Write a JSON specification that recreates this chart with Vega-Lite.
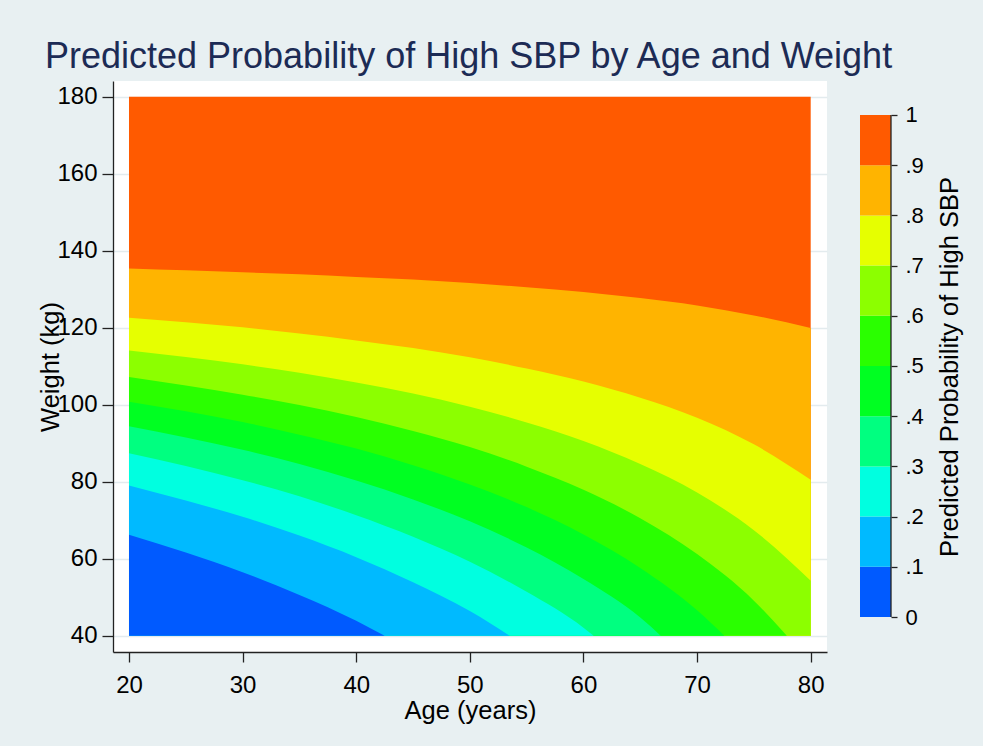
{
  "$schema": "https://vega.github.io/schema/vega-lite/v6.json",
  "background": "#e8f0f2",
  "padding": {"left": 38, "top": 39, "right": 20, "bottom": 22},
  "title": {
    "text": "Predicted Probability of High SBP by Age and Weight",
    "anchor": "start",
    "frame": "bounds",
    "dx": 6,
    "offset": -23,
    "baseline": "alphabetic",
    "font": "Liberation Sans",
    "fontSize": 36,
    "fontWeight": "normal",
    "color": "#1c2b55"
  },
  "config": {
    "view": {"stroke": null},
    "font": "Liberation Sans",
    "axis": {
      "domainColor": "#222222",
      "tickColor": "#222222",
      "domainWidth": 1.3,
      "tickWidth": 1.3,
      "labelColor": "#000000",
      "titleColor": "#000000",
      "labelFont": "Liberation Sans",
      "titleFont": "Liberation Sans",
      "titleFontWeight": "normal",
      "labelOverlap": false,
      "labelFlush": false
    }
  },
  "datasets": {
    "curves": [
      {"lvl": 10, "age": 20, "w": 180}, {"lvl": 10, "age": 80, "w": 180},
      {"lvl": 9, "age": 20, "w": 135.4}, {"lvl": 9, "age": 25, "w": 134.9}, {"lvl": 9, "age": 30, "w": 134.4}, {"lvl": 9, "age": 35, "w": 133.9}, {"lvl": 9, "age": 40, "w": 133.2}, {"lvl": 9, "age": 45, "w": 132.5}, {"lvl": 9, "age": 50, "w": 131.6}, {"lvl": 9, "age": 55, "w": 130.5}, {"lvl": 9, "age": 60, "w": 129.3}, {"lvl": 9, "age": 65, "w": 127.7}, {"lvl": 9, "age": 70, "w": 125.8}, {"lvl": 9, "age": 75, "w": 123.2}, {"lvl": 9, "age": 80, "w": 119.9},
      {"lvl": 8, "age": 20, "w": 122.6}, {"lvl": 8, "age": 25, "w": 121.4}, {"lvl": 8, "age": 30, "w": 120.1}, {"lvl": 8, "age": 35, "w": 118.5}, {"lvl": 8, "age": 40, "w": 116.7}, {"lvl": 8, "age": 45, "w": 114.7}, {"lvl": 8, "age": 50, "w": 112.3}, {"lvl": 8, "age": 55, "w": 109.4}, {"lvl": 8, "age": 60, "w": 106.0}, {"lvl": 8, "age": 65, "w": 101.8}, {"lvl": 8, "age": 70, "w": 96.6}, {"lvl": 8, "age": 75, "w": 89.7}, {"lvl": 8, "age": 80, "w": 80.5},
      {"lvl": 7, "age": 20, "w": 114.1}, {"lvl": 7, "age": 25, "w": 112.4}, {"lvl": 7, "age": 30, "w": 110.5}, {"lvl": 7, "age": 35, "w": 108.3}, {"lvl": 7, "age": 40, "w": 105.8}, {"lvl": 7, "age": 45, "w": 102.9}, {"lvl": 7, "age": 50, "w": 99.5}, {"lvl": 7, "age": 55, "w": 95.4}, {"lvl": 7, "age": 60, "w": 90.6}, {"lvl": 7, "age": 65, "w": 84.6}, {"lvl": 7, "age": 70, "w": 77.2}, {"lvl": 7, "age": 75, "w": 67.4}, {"lvl": 7, "age": 80, "w": 54.3},
      {"lvl": 6, "age": 20, "w": 107.2}, {"lvl": 6, "age": 25, "w": 105.0}, {"lvl": 6, "age": 30, "w": 102.6}, {"lvl": 6, "age": 35, "w": 99.9}, {"lvl": 6, "age": 40, "w": 96.8}, {"lvl": 6, "age": 45, "w": 93.2}, {"lvl": 6, "age": 50, "w": 89.0}, {"lvl": 6, "age": 55, "w": 83.9}, {"lvl": 6, "age": 60, "w": 77.9}, {"lvl": 6, "age": 65, "w": 70.5}, {"lvl": 6, "age": 70, "w": 61.2}, {"lvl": 6, "age": 75, "w": 49.1}, {"lvl": 6, "age": 77.9, "w": 40},
      {"lvl": 5, "age": 20, "w": 100.8}, {"lvl": 5, "age": 25, "w": 98.3}, {"lvl": 5, "age": 30, "w": 95.5}, {"lvl": 5, "age": 35, "w": 92.2}, {"lvl": 5, "age": 40, "w": 88.6}, {"lvl": 5, "age": 45, "w": 84.3}, {"lvl": 5, "age": 50, "w": 79.3}, {"lvl": 5, "age": 55, "w": 73.4}, {"lvl": 5, "age": 60, "w": 66.3}, {"lvl": 5, "age": 65, "w": 57.6}, {"lvl": 5, "age": 70, "w": 46.6}, {"lvl": 5, "age": 72.4, "w": 40},
      {"lvl": 4, "age": 20, "w": 94.4}, {"lvl": 4, "age": 25, "w": 91.5}, {"lvl": 4, "age": 30, "w": 88.3}, {"lvl": 4, "age": 35, "w": 84.6}, {"lvl": 4, "age": 40, "w": 80.3}, {"lvl": 4, "age": 45, "w": 75.4}, {"lvl": 4, "age": 50, "w": 69.7}, {"lvl": 4, "age": 55, "w": 62.9}, {"lvl": 4, "age": 60, "w": 54.7}, {"lvl": 4, "age": 65, "w": 44.7}, {"lvl": 4, "age": 66.8, "w": 40},
      {"lvl": 3, "age": 20, "w": 87.4}, {"lvl": 3, "age": 25, "w": 84.1}, {"lvl": 3, "age": 30, "w": 80.4}, {"lvl": 3, "age": 35, "w": 76.2}, {"lvl": 3, "age": 40, "w": 71.3}, {"lvl": 3, "age": 45, "w": 65.7}, {"lvl": 3, "age": 50, "w": 59.2}, {"lvl": 3, "age": 55, "w": 51.4}, {"lvl": 3, "age": 60, "w": 42.1}, {"lvl": 3, "age": 60.9, "w": 40},
      {"lvl": 2, "age": 20, "w": 79.0}, {"lvl": 2, "age": 25, "w": 75.1}, {"lvl": 2, "age": 30, "w": 70.9}, {"lvl": 2, "age": 35, "w": 66.0}, {"lvl": 2, "age": 40, "w": 60.4}, {"lvl": 2, "age": 45, "w": 53.9}, {"lvl": 2, "age": 50, "w": 46.4}, {"lvl": 2, "age": 53.5, "w": 40},
      {"lvl": 1, "age": 20, "w": 66.2}, {"lvl": 1, "age": 25, "w": 61.6}, {"lvl": 1, "age": 30, "w": 56.5}, {"lvl": 1, "age": 35, "w": 50.6}, {"lvl": 1, "age": 40, "w": 43.9}, {"lvl": 1, "age": 42.5, "w": 40}
    ],
    "bands": [
      {"band": "0-.1", "lo": 0, "hi": 0.1},
      {"band": ".1-.2", "lo": 0.1, "hi": 0.2},
      {"band": ".2-.3", "lo": 0.2, "hi": 0.3},
      {"band": ".3-.4", "lo": 0.3, "hi": 0.4},
      {"band": ".4-.5", "lo": 0.4, "hi": 0.5},
      {"band": ".5-.6", "lo": 0.5, "hi": 0.6},
      {"band": ".6-.7", "lo": 0.6, "hi": 0.7},
      {"band": ".7-.8", "lo": 0.7, "hi": 0.8},
      {"band": ".8-.9", "lo": 0.8, "hi": 0.9},
      {"band": ".9-1", "lo": 0.9, "hi": 1}
    ]
  },
  "bounds": "flush",
  "spacing": 33,
  "hconcat": [
    {
      "width": 714,
      "height": 571,
      "view": {"fill": "white", "stroke": null},
      "data": {"name": "curves"},
      "encoding": {
        "x": {
          "field": "age", "type": "quantitative",
          "scale": {"domain": [18.592, 81.435], "nice": false, "zero": false},
          "axis": {"values": [20, 30, 40, 50, 60, 70, 80], "title": "Age (years)", "grid": false, "tickSize": 10, "labelFontSize": 24, "labelPadding": 11, "titleFontSize": 25.5, "titlePadding": 1}
        },
        "y": {
          "field": "w", "type": "quantitative",
          "scale": {"domain": [35.77, 184.08], "nice": false, "zero": false},
          "axis": {"values": [40, 60, 80, 100, 120, 140, 160, 180], "title": "Weight (kg)", "grid": true, "gridColor": "#e3ebee", "gridWidth": 1.5, "tickSize": 11, "labelFontSize": 24, "labelPadding": 5, "titleFontSize": 25.5, "titlePadding": -7}
        },
        "y2": {"datum": 40}
      },
      "layer": [
        {"transform": [{"filter": "datum.lvl == 10"}], "mark": {"type": "area", "color": "#ff5a00", "interpolate": "monotone"}},
        {"transform": [{"filter": "datum.lvl == 9"}], "mark": {"type": "area", "color": "#ffb400", "interpolate": "monotone"}},
        {"transform": [{"filter": "datum.lvl == 8"}], "mark": {"type": "area", "color": "#e6ff00", "interpolate": "monotone"}},
        {"transform": [{"filter": "datum.lvl == 7"}], "mark": {"type": "area", "color": "#8cff00", "interpolate": "monotone"}},
        {"transform": [{"filter": "datum.lvl == 6"}], "mark": {"type": "area", "color": "#2aff00", "interpolate": "monotone"}},
        {"transform": [{"filter": "datum.lvl == 5"}], "mark": {"type": "area", "color": "#00ff22", "interpolate": "monotone"}},
        {"transform": [{"filter": "datum.lvl == 4"}], "mark": {"type": "area", "color": "#00ff80", "interpolate": "monotone"}},
        {"transform": [{"filter": "datum.lvl == 3"}], "mark": {"type": "area", "color": "#00ffe0", "interpolate": "monotone"}},
        {"transform": [{"filter": "datum.lvl == 2"}], "mark": {"type": "area", "color": "#00baff", "interpolate": "monotone"}},
        {"transform": [{"filter": "datum.lvl == 1"}], "mark": {"type": "area", "color": "#005aff", "interpolate": "monotone"}}
      ]
    },
    {
      "width": 31,
      "height": 571,
      "view": {"stroke": null},
      "layer": [
        {
          "data": {"name": "bands"},
          "mark": {"type": "rect"},
          "encoding": {
            "x": {"datum": 0, "type": "quantitative", "scale": {"domain": [0, 1], "nice": false}, "axis": null},
            "x2": {"datum": 1},
            "y": {
              "field": "lo", "type": "quantitative",
              "scale": {"domain": [-0.0697, 1.0677], "nice": false, "zero": false},
              "axis": {
                "orient": "right",
                "values": [0, 0.1, 0.2, 0.3, 0.4, 0.5, 0.6, 0.7, 0.8, 0.9, 1],
                "labelExpr": "datum.value == 0 ? '0' : datum.value > 0.999 ? '1' : replace(format(datum.value, '.1f'), '0.', '.')",
                "domain": false,
                "grid": false,
                "tickSize": 6,
                "labelPadding": 8,
                "labelFontSize": 22,
                "labelBaseline": "middle",
                "title": "Predicted Probability of High SBP",
                "titleFontSize": 25.5,
                "titleAngle": 270,
                "titleBaseline": "top",
                "titlePadding": 14
              }
            },
            "y2": {"field": "hi"},
            "color": {
              "field": "band", "type": "nominal",
              "scale": {
                "domain": ["0-.1", ".1-.2", ".2-.3", ".3-.4", ".4-.5", ".5-.6", ".6-.7", ".7-.8", ".8-.9", ".9-1"],
                "range": ["#005aff", "#00baff", "#00ffe0", "#00ff80", "#00ff22", "#2aff00", "#8cff00", "#e6ff00", "#ffb400", "#ff5a00"]
              },
              "legend": null
            }
          }
        },
        {
          "data": {"values": [{"edge": 1}]},
          "mark": {"type": "rule", "color": "#222222", "strokeWidth": 1.3},
          "encoding": {
            "x": {"field": "edge", "type": "quantitative"},
            "y": {"datum": 0, "type": "quantitative"},
            "y2": {"datum": 1}
          }
        }
      ]
    }
  ]
}
